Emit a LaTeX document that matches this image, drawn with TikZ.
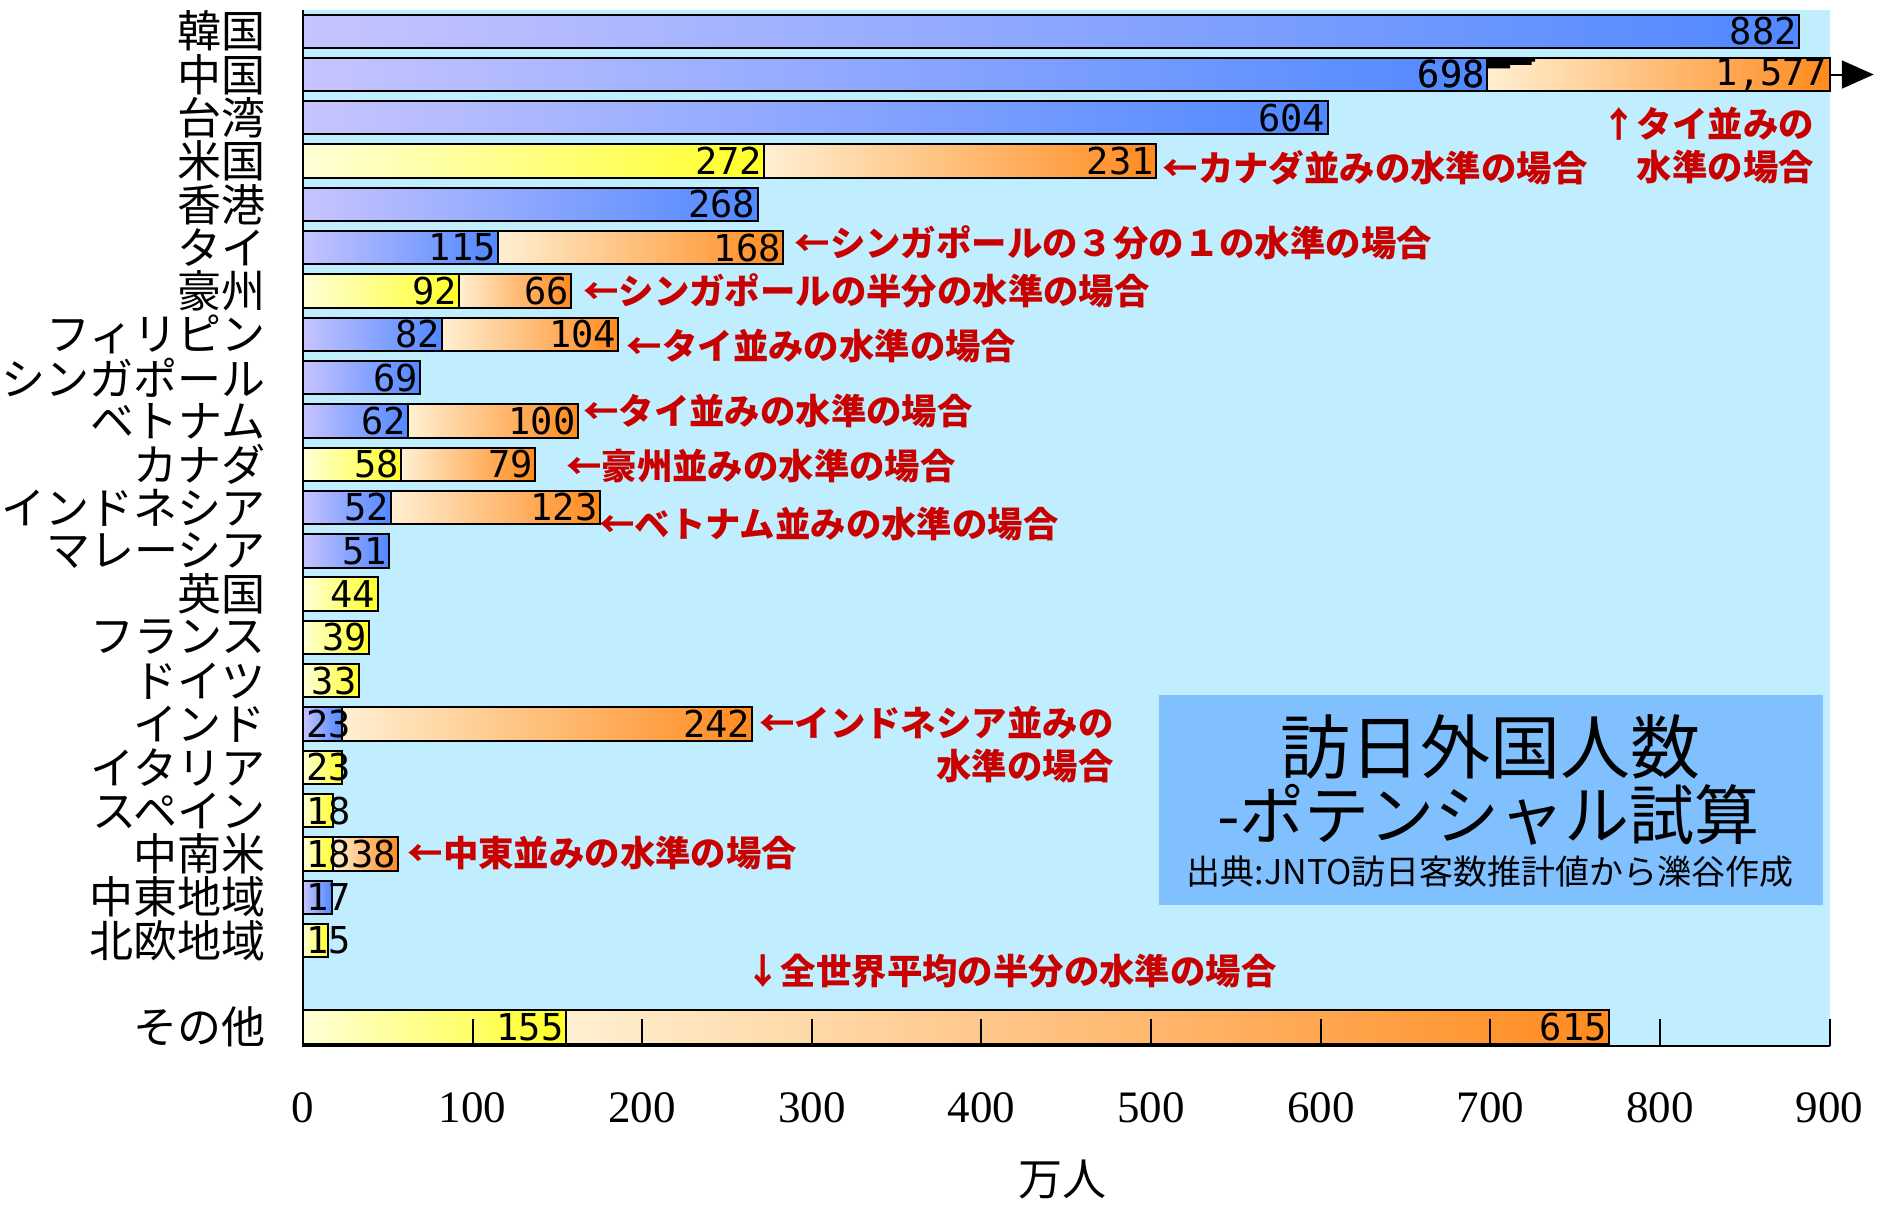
\documentclass[tikz,border=0pt]{standalone}
\usepackage{fontspec}
\setmainfont{Liberation Serif}
\newfontfamily\jpfont{Noto Sans CJK JP}
\newfontfamily\numfont{DejaVu Sans Mono}
\usetikzlibrary{arrows.meta}
\definecolor{plotbg}{RGB}{192,238,255}
\definecolor{titlebg}{RGB}{128,192,255}
\definecolor{notered}{RGB}{200,0,0}
\definecolor{blueL}{RGB}{198,196,255}
\definecolor{blueR}{RGB}{80,136,255}
\definecolor{yellowL}{RGB}{255,255,215}
\definecolor{yellowR}{RGB}{255,255,40}
\definecolor{orangeL}{RGB}{255,240,210}
\definecolor{orangeR}{RGB}{255,138,30}

\begin{document}
\begin{tikzpicture}[
    x=0.84815pt, y=-21.65pt,
    bar/.style={draw=black, line width=1pt},
    bluebar/.style={bar, left color=blueL, right color=blueR},
    yellowbar/.style={bar, left color=yellowL, right color=yellowR},
    extrabar/.style={bar, left color=orangeL, right color=orangeR},
    num/.style={font=\numfont\fontsize{18.5}{19}\selectfont, inner sep=1pt},
    country/.style={anchor=east, inner sep=0pt,
        font=\jpfont\fontsize{22}{22}\selectfont},
    note/.style={inner sep=0pt, text=notered,
        font=\jpfont\bfseries\fontsize{17.7}{21.65}\selectfont},
    ticklabel/.style={font=\fontsize{22.5}{24}\selectfont},
]
    \useasboundingbox (-178.6,0.279) rectangle (929.1,28.085);
    % plot area
    \fill[plotbg] (0,0.5) rectangle (900,24.43);
    % bars: row/country/style/value/extra
    \foreach \r/\cname/\kind/\base/\extra in {
        1/韓国/bluebar/882/0, 2/中国/bluebar/698/0, 3/台湾/bluebar/604/0,
        4/米国/yellowbar/272/231, 5/香港/bluebar/268/0, 6/タイ/bluebar/115/168,
        7/豪州/yellowbar/92/66, 8/フィリピン/bluebar/82/104,
        9/シンガポール/bluebar/69/0, 10/ベトナム/bluebar/62/100,
        11/カナダ/yellowbar/58/79, 12/インドネシア/bluebar/52/123,
        13/マレーシア/bluebar/51/0, 14/英国/yellowbar/44/0,
        15/フランス/yellowbar/39/0, 16/ドイツ/yellowbar/33/0,
        17/インド/bluebar/23/242, 18/イタリア/yellowbar/23/0,
        19/スペイン/yellowbar/18/0, 20/中南米/yellowbar/18/38,
        21/中東地域/bluebar/17/0, 22/北欧地域/yellowbar/15/0,
        24/その他/yellowbar/155/615}
    {
        \node[country] (c\r) at (-22,\r) {\cname};
        \draw[\kind] (0,\r-0.385) rectangle (\base,\r+0.385);
        \ifnum\extra>0
            \pgfmathsetmacro\total{\base+\extra}
            \draw[extrabar] (\base,\r-0.385) rectangle (\total,\r+0.385);
            \node[num, anchor=east] (e\r) at (\total,\r) {\extra};
        \fi
        \ifnum\base<25
            \node[num, anchor=west] (v\r) at (0.5,\r) {\base};
        \else
            \node[num, anchor=east] (v\r) at (\base,\r) {\base};
        \fi
    }
    % china runs off the scale
    \draw[extrabar] (698,1.615) rectangle (900,2.385);
    \fill (698.5,1.626) -- (726.3,1.626) -- (726.3,1.704) -- (724.3,1.704)
        -- (724.3,1.78) -- (711.6,1.78) -- (711.6,1.857) -- (698.5,1.857) -- cycle;
    \node[num, anchor=east] (e2) at (900,2) {1,577};
    \node[num, anchor=east] (v2) at (698,2) {698};
    \coordinate (cnend) at (900,2);
    \coordinate (cntip) at (926,2);
    \draw[line width=1pt, -{Triangle[length=16pt,width=14pt]}] (cnend) -- (cntip);
    % axes
    \draw[line width=1.2pt] (0,0.5) -- (0,24.43) -- (900,24.43);
    \foreach \t in {100,200,...,900}
        \draw[line width=1pt] (\t,24.43) -- (\t,23.81);
    \foreach \t in {0,100,...,900}
        \node[ticklabel] (x\t) at (\t,25.87) {\t};
    \node[country, anchor=center] (unit) at (448,27.53) {万人};
    % notes
    \node[note, anchor=east, align=right] (n2) at (891,3.64) {↑タイ並みの\\水準の場合};
    \node[note, anchor=west] (n4) at (506.6,4.15) {←カナダ並みの水準の場合};
    \node[note, anchor=west] (n6) at (289.6,5.89) {←シンガポールの３分の１の水準の場合};
    \node[note, anchor=west] (n7) at (165,7.0) {←シンガポールの半分の水準の場合};
    \node[note, anchor=west] (n8) at (190.7,8.27) {←タイ並みの水準の場合};
    \node[note, anchor=west] (n10) at (165,9.77) {←タイ並みの水準の場合};
    \node[note, anchor=west] (n11) at (155,11.04) {←豪州並みの水準の場合};
    \node[note, anchor=west] (n12) at (174.5,12.37) {←ベトナム並みの水準の場合};
    \node[note, anchor=east, align=right] (n17) at (478,17.48) {←インドネシア並みの\\水準の場合};
    \node[note, anchor=west] (n20) at (61.5,19.98) {←中東並みの水準の場合};
    \node[note, anchor=west] (n24) at (260.7,22.7) {↓全世界平均の半分の水準の場合};
    % title box
    \node[fill=titlebg, minimum width=332pt, minimum height=105pt] (title) at (700.3,18.755) {};
    \node[font=\jpfont\fontsize{35}{35}\selectfont] (title1) at (700,17.53) {訪日外国人数};
    \node[font=\jpfont\fontsize{32.5}{33}\selectfont] (title2) at (699,19.1) {-ポテンシャル試算};
    \node[font=\jpfont\fontsize{17}{17}\selectfont] (title3) at (700,20.4) {出典:JNTO訪日客数推計値から濼谷作成};
\end{tikzpicture}
\end{document}
